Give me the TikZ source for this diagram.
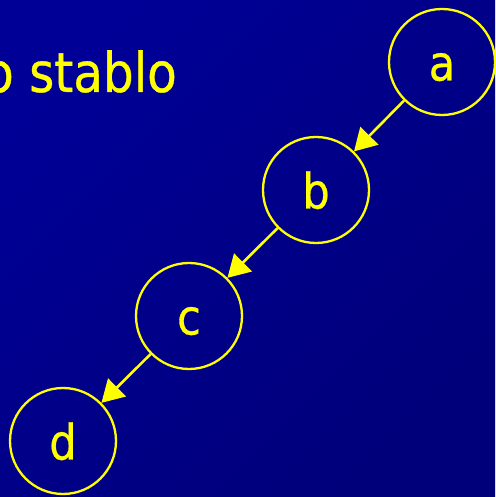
\documentclass[tikz,border=0pt]{standalone}
\usepackage{fontspec}
\setmainfont{DejaVu Sans}[FakeStretch=0.88,FakeBold=0.6]
\usetikzlibrary{arrows.meta}
\definecolor{bgA}{RGB}{0,0,150}
\definecolor{bgB}{RGB}{0,0,122}
\definecolor{yel}{RGB}{255,255,0}
\tikzset{
  treenode/.style={circle,draw=yel,line width=2.3pt,inner sep=0pt,minimum size=106pt,
    text=yel,font=\fontsize{49pt}{49pt}\selectfont,text height=37pt,text depth=0pt},
  edge/.style={draw=yel,line width=2.6pt,-{Triangle[length=22pt,width=25pt]}},
  title/.style={text=yel,font=\fontsize{55pt}{55pt}\selectfont,inner sep=0pt}
}
\begin{document}
\begin{tikzpicture}[x=1pt,y=1pt]
\useasboundingbox (0,0) rectangle (495,497);
\shade[top color=bgA,bottom color=bgB,shading angle=45] (0,0) rectangle (495,497);
\node[title,anchor=base east] (t) at (177,405) {o stablo};
\node[treenode] (a) at (442,435) {a};
\node[treenode] (b) at (316,307) {b};
\node[treenode] (c) at (189,181) {c};
\node[treenode] (d) at (63,56) {d};
\draw[edge] (a) -- (b);
\draw[edge] (b) -- (c);
\draw[edge] (c) -- (d);
\end{tikzpicture}
\end{document}
